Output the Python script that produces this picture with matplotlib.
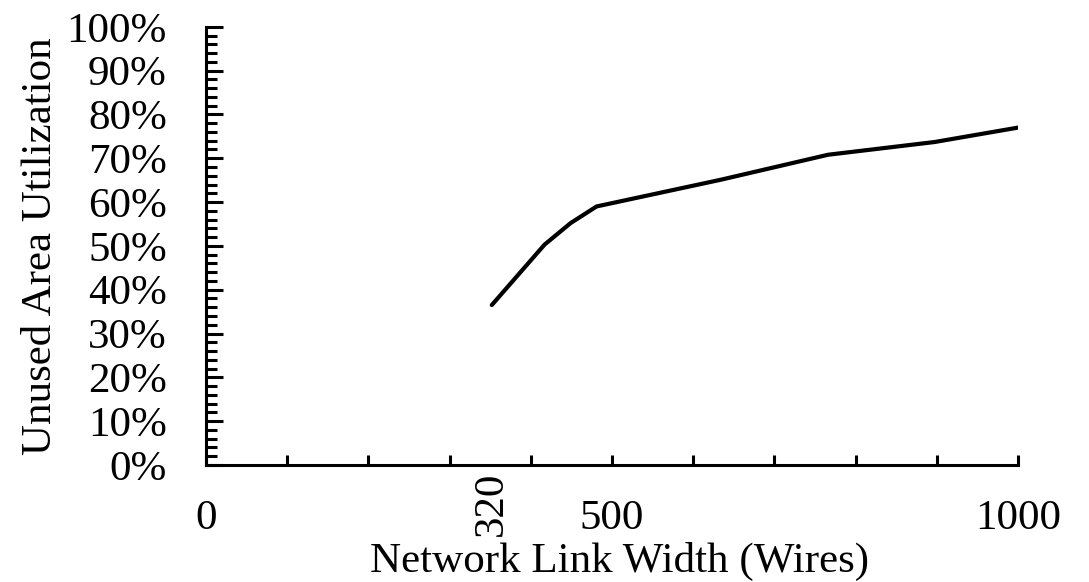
import numpy as np
import matplotlib
matplotlib.use('Agg')
from matplotlib import pyplot as plt
from matplotlib.ticker import MultipleLocator, FuncFormatter

plt.rcParams['font.family'] = ['Liberation Serif', 'DejaVu Serif']

link_width = [352, 417, 449, 481, 634, 766, 897, 1000]
unused_area = [36.5, 50.3, 55.2, 59.0, 65.1, 70.8, 73.7, 77.0]

fig = plt.figure(figsize=(10.89, 5.82), dpi=100)
ax = fig.add_axes([0.189, 0.201, 0.746, 0.753])

ax.plot(link_width, unused_area, color='black', lw=3, solid_capstyle='round')

ax.set_xlim(0, 1000)
ax.set_ylim(0, 100)

ax.spines['top'].set_visible(False)
ax.spines['right'].set_visible(False)
ax.spines['left'].set_linewidth(2.2)
ax.spines['bottom'].set_linewidth(2.2)

ax.xaxis.set_major_locator(MultipleLocator(100))
ax.xaxis.set_major_formatter(FuncFormatter(lambda v, p: '%d' % v if v in (0, 500, 1000) else ''))
ax.yaxis.set_major_locator(MultipleLocator(10))
ax.yaxis.set_minor_locator(MultipleLocator(2))
ax.yaxis.set_major_formatter(FuncFormatter(lambda v, p: '%d%%' % v))

ax.tick_params(axis='x', direction='in', length=7, width=2.2, labelsize=31, pad=25)
ax.tick_params(axis='y', which='major', direction='in', length=12, width=2.2, labelsize=31, pad=28)
ax.tick_params(axis='y', which='minor', direction='in', length=8, width=2.2)

# first width label sits under the first point, rotated
ax.text(link_width[0], -1.6, '320', rotation=90, ha='center', va='top',
        fontsize=31, transform=ax.transData)

ax.set_xlabel('Network Link Width (Wires)', fontsize=31, labelpad=3)
ax.xaxis.label.set_x(0.509)
ax.set_ylabel('Unused Area Utilization', fontsize=31, labelpad=5)

fig.savefig('out.png', dpi=100)
